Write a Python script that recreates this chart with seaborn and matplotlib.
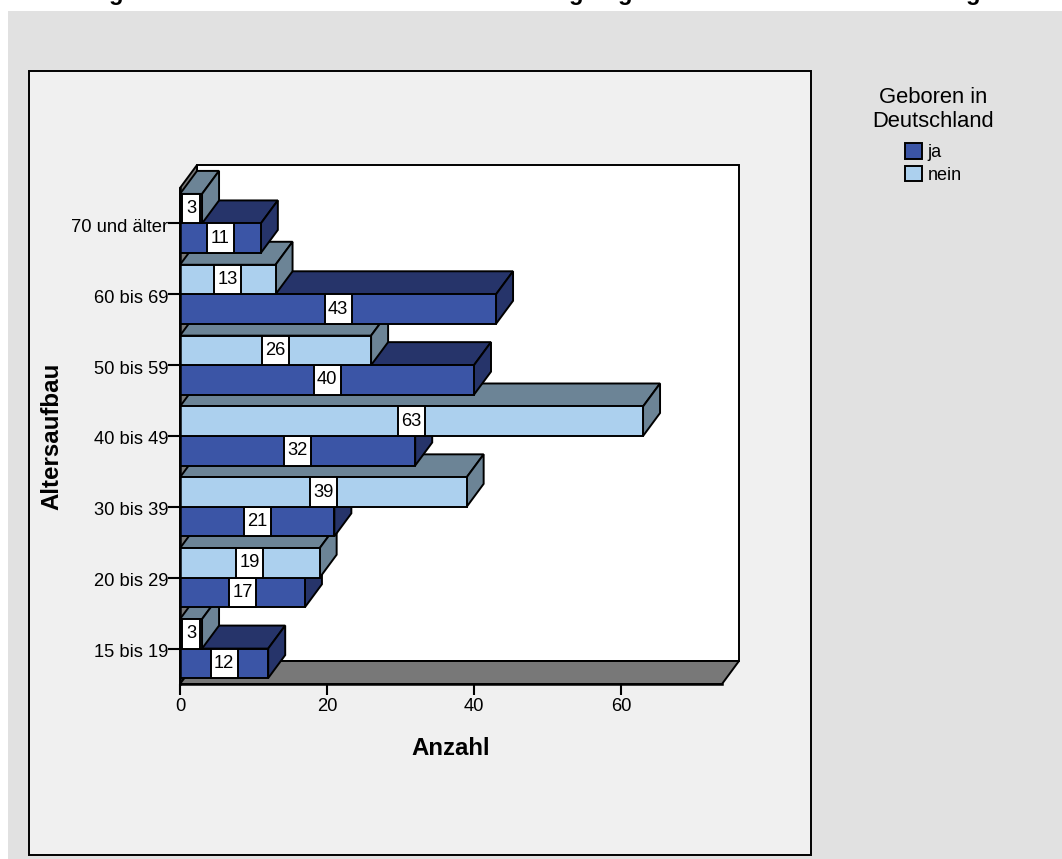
import pandas as pd
import seaborn as sns
import matplotlib.pyplot as plt
from matplotlib.patches import Polygon, Rectangle
from matplotlib.transforms import ScaledTranslation

# Altersgruppen von oben nach unten
age_groups = ['70 und älter', '60 bis 69', '50 bis 59', '40 bis 49', '30 bis 39', '20 bis 29', '15 bis 19']
ja_counts = [11, 43, 40, 32, 21, 17, 12]
nein_counts = [3, 13, 26, 63, 39, 19, 3]
x_ticks = [0, 20, 40, 60]

W, H = 1062, 859
BLUE = '#3b55a6'
BLUE_DARK = '#26346a'
LIGHT = '#acd0ee'
LIGHT_DARK = '#6c8496'
FLOOR = '#787878'
LW = 1.4

sns.set_theme(style='ticks')
plt.rcParams['font.family'] = ['Liberation Sans', 'DejaVu Sans']
plt.rcParams['text.color'] = 'black'

df = pd.DataFrame({
    'Altersaufbau': age_groups * 2,
    'Anzahl': ja_counts + nein_counts,
    'Geboren': ['ja'] * len(age_groups) + ['nein'] * len(age_groups),
})

fig = plt.figure(figsize=(W / 100, H / 100), dpi=100, facecolor='white')

# grauer Hintergrund und Rahmen
fig.patches.append(Rectangle((8 / W, 0), 1 - 8 / W, 1 - 11 / H, transform=fig.transFigure,
                             facecolor='#e1e1e1', edgecolor='none', zorder=-2))
fig.patches.append(Rectangle((29 / W, 4 / H), 782 / W, 784 / H, transform=fig.transFigure,
                             facecolor='#f0f0f0', edgecolor='black', linewidth=1.4, zorder=-1))

ax = fig.add_axes([180 / W, (H - 684) / H, 542 / W, 496 / H])
ax.patch.set_visible(False)

sns.barplot(data=df, y='Altersaufbau', x='Anzahl', hue='Geboren', order=age_groups,
            hue_order=['nein', 'ja'], palette={'ja': BLUE, 'nein': LIGHT}, saturation=1,
            width=0.833, gap=0, errorbar=None, edgecolor='black', linewidth=LW, ax=ax)

x_max = 542 / 7.35
ax.set_xlim(0, x_max)
ax.set_ylim(6.5, -0.5)
ax.set_xticks(x_ticks)

# Tiefe der 3D-Darstellung in Dateneinheiten
dx = 17 / 7.35
dy = 23 / (496 / 7)

# Wände und Boden
wall = dict(edgecolor='black', linewidth=LW, clip_on=False, zorder=1)
ax.add_patch(Polygon([(dx, -0.5 - dy), (x_max + dx, -0.5 - dy), (x_max + dx, 6.5 - dy), (dx, 6.5 - dy)],
                     facecolor='white', **wall))
ax.add_patch(Polygon([(0, -0.5), (dx, -0.5 - dy), (dx, 6.5 - dy), (0, 6.5)], facecolor=FLOOR, **wall))
ax.add_patch(Polygon([(0, 6.5), (dx, 6.5 - dy), (x_max + dx, 6.5 - dy), (x_max, 6.5)], facecolor=FLOOR, **wall))

# Balken von unten nach oben zeichnen, der obere liegt jeweils vorne
bars = []
for container, dark in zip(ax.containers, [LIGHT_DARK, BLUE_DARK]):
    for bar in container:
        bars.append((bar, dark))
bars.sort(key=lambda item: -item[0].get_y())

for rank, (bar, dark) in enumerate(bars):
    z = 2 + rank
    w = bar.get_width()
    top = bar.get_y()
    bottom = top + bar.get_height()
    bar.set_zorder(z + 0.1)
    bar.set_clip_on(False)
    ax.add_patch(Polygon([(0, top), (dx, top - dy), (w + dx, top - dy), (w, top)], facecolor=dark,
                         edgecolor='black', linewidth=LW, clip_on=False, zorder=z))
    ax.add_patch(Polygon([(w, top), (w + dx, top - dy), (w + dx, bottom - dy), (w, bottom)], facecolor=dark,
                         edgecolor='black', linewidth=LW, clip_on=False, zorder=z))
    label = f'{w:.0f}'
    box_w = (18 if len(label) == 1 else 27) / 7.35
    ax.add_patch(Rectangle((w / 2 - box_w / 2, top), box_w, bottom - top, facecolor='white',
                           edgecolor='black', linewidth=LW, clip_on=False, zorder=z + 0.2))
    ax.text(w / 2, (top + bottom) / 2, label, ha='center', va='center', fontsize=13.2,
            color='black', zorder=z + 0.3)

sns.despine(ax=ax)
for spine in ['left', 'bottom']:
    ax.spines[spine].set_color('black')
    ax.spines[spine].set_linewidth(1.8)
    ax.spines[spine].set_zorder(50)
ax.tick_params(axis='x', length=8, width=1.5, pad=2, labelsize=13.2, colors='black')
ax.tick_params(axis='y', length=8.5, width=1.5, pad=0, labelsize=13.2, colors='black')

# Beschriftung liegt etwas unter dem Tick
shift = ScaledTranslation(0, -2 / 100, fig.dpi_scale_trans)
for tick_label in ax.get_yticklabels():
    tick_label.set_transform(tick_label.get_transform() + shift)

ax.set_xlabel('Anzahl', fontsize=17.3, fontweight='bold', color='black')
ax.set_ylabel('Altersaufbau', fontsize=17.4, fontweight='bold', color='black')
ax.xaxis.set_label_coords(0.5, -0.107)
ax.yaxis.set_label_coords(-0.216, 0.5)

handles, labels = ax.get_legend_handles_labels()
leg = ax.legend(handles[::-1], labels[::-1], title='Geboren in\nDeutschland', frameon=False,
                loc='upper center', bbox_to_anchor=(933.5 / W, (H - 78) / H), bbox_transform=fig.transFigure,
                fontsize=13, title_fontsize=15.8, handlelength=0.94, handleheight=0.94,
                handletextpad=0.3, labelspacing=0.26, borderpad=0)
leg.get_title().set_multialignment('center')
leg._legend_box.sep = 8

# vom Titel sind nur noch die Unterlängen zu sehen
for gx in [116, 576, 625, 973]:
    fig.text(gx / W, 1.0, 'g', ha='center', va='baseline', fontsize=17, fontweight='bold', color='black')

fig.savefig('out.png', dpi=100)
